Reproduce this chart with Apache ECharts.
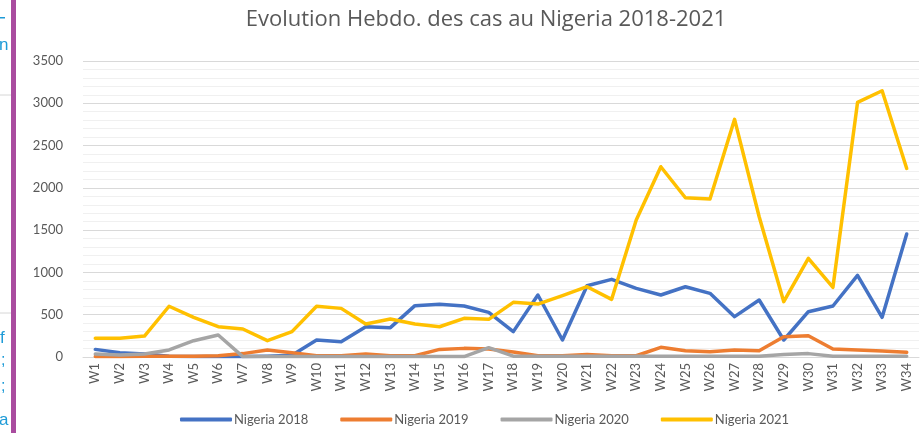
<!DOCTYPE html>
<html>
<head>
<meta charset="utf-8">
<script src="https://cdn.jsdelivr.net/npm/echarts@6/dist/echarts.min.js"></script>
<style>html,body{margin:0;padding:0;background:#fff}#c{width:921px;height:433px}</style>
</head>
<body>
<div id="c"></div>
<script>
const weeks = ['W1','W2','W3','W4','W5','W6','W7','W8','W9','W10','W11','W12','W13','W14','W15','W16','W17','W18','W19','W20','W21','W22','W23','W24','W25','W26','W27','W28','W29','W30','W31','W32','W33','W34'];
const nigeria2018 = [90,50,35,10,5,5,5,10,20,200,180,358,347,607,623,603,528,300,733,201,843,918,812,733,831,753,477,674,201,536,603,965,469,1454];
const nigeria2019 = [5,5,10,10,10,15,40,83,51,15,15,35,15,15,90,102,95,59,15,15,30,15,15,114,75,63,83,75,240,252,95,83,70,55];
const nigeria2020 = [35,25,35,83,193,260,5,5,5,5,5,5,5,5,5,5,110,10,10,10,10,10,10,10,10,10,10,10,30,40,10,10,10,10];
const nigeria2021 = [221,221,248,600,469,358,331,193,300,600,575,390,449,390,358,457,445,646,626,725,831,682,1619,2250,1883,1868,2810,1658,654,1166,824,3010,3148,2230];
const yTicks = [0,500,1000,1500,2000,2500,3000,3500];
const seriesNames = ['Nigeria 2018','Nigeria 2019','Nigeria 2020','Nigeria 2021'];
const colors = ['#4472C4','#ED7D31','#A5A5A5','#FFC000'];
const allData = [nigeria2018, nigeria2019, nigeria2020, nigeria2021];

const chart = echarts.init(document.getElementById('c'), null, {renderer:'canvas'});
const font = 'Lato, "Open Sans", sans-serif';
chart.setOption({
  animation:false,
  color: colors,
  title:{
    text:'Evolution Hebdo. des cas au Nigeria 2018-2021',
    left:481, textAlign:'center', top:4,
    textStyle:{fontFamily:'"Open Sans"', fontSize:22, fontWeight:'normal', color:'#595959'}
  },
  grid:{left:83, right:2, top:61, bottom:76, containLabel:false},
  legend:{
    bottom:2, left:175,
    itemWidth:52, itemHeight:4, itemGap:32,
    icon:'roundRect',
    textStyle:{fontFamily:font, fontSize:13, color:'#595959', padding:[0,0,0,-3]},
    data: seriesNames
  },
  xAxis:{
    type:'category', data: weeks, boundaryGap:true,
    axisLine:{lineStyle:{color:'#d9d9d9'}},
    axisTick:{show:false},
    axisLabel:{rotate:90, interval:0, margin:6, fontFamily:font, fontSize:13, color:'#595959'}
  },
  yAxis:{
    type:'value', min:yTicks[0], max:yTicks[yTicks.length-1], interval:500,
    axisLine:{show:false}, axisTick:{show:false},
    axisLabel:{fontFamily:font, fontSize:13, color:'#595959', margin:20, formatter:v=>String(v)},
    splitLine:{lineStyle:{color:'#d9d9d9', width:1}},
    minorTick:{show:false, splitNumber:5},
    minorSplitLine:{show:true, lineStyle:{color:'#f0f0f0', width:1}}
  },
  series: allData.map((d,i)=>({
    name: seriesNames[i], type:'line', data:d, showSymbol:false, symbol:'none',
    lineStyle:{width:3.5, color:colors[i], cap:'round', join:'round'},
    z: 2 + i
  })),
  graphic:[
    {type:'rect', shape:{x:-1, y:95, width:13, height:218}, style:{fill:'#fff', stroke:'#d6d6d6', lineWidth:1}},
    {type:'rect', shape:{x:11, y:0, width:5, height:433}, style:{fill:'#A94C9F'}},
    {type:'rect', shape:{x:0, y:17, width:5, height:1.5}, style:{fill:'#1E9BD7'}},
    {type:'text', left:-1, top:37, style:{text:'n', fill:'#1E9BD7', font:'17px "Liberation Sans"'}},
    {type:'text', left:0, top:330, style:{text:'f', fill:'#1E9BD7', font:'17px "Liberation Sans"'}},
    {type:'text', left:1, top:353, style:{text:';', fill:'#1E9BD7', font:'16px "Liberation Sans"'}},
    {type:'text', left:1, top:379, style:{text:';', fill:'#1E9BD7', font:'16px "Liberation Sans"'}},
    {type:'text', left:-1, top:412, style:{text:'a', fill:'#1E9BD7', font:'17px "Liberation Sans"'}}
  ]
});
</script>
</body>
</html>
